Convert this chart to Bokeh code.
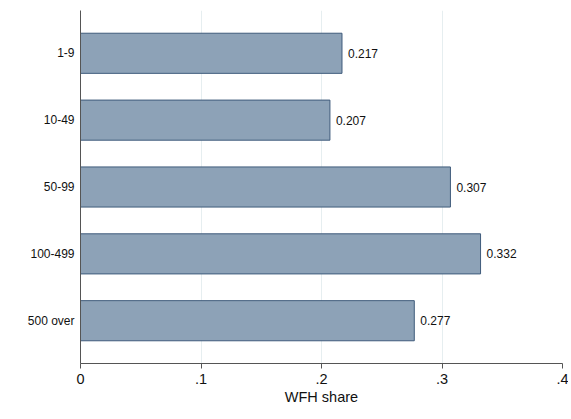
from bokeh.plotting import figure
from bokeh.models import ColumnDataSource, Range1d, FactorRange, FixedTicker
from bokeh.embed import file_html
from bokeh.resources import INLINE
from bokeh.core.properties import value

categories = ["1-9", "10-49", "50-99", "100-499", "500 over"]
wfh_share = [0.217, 0.207, 0.307, 0.332, 0.277]
x_ticks = [0, 0.1, 0.2, 0.3, 0.4]
x_tick_labels = {0: "0", 0.1: ".1", 0.2: ".2", 0.3: ".3", 0.4: ".4"}

labels = ["%.3f" % v for v in wfh_share]
src = ColumnDataSource(dict(cat=categories, val=wfh_share, lab=labels))

FONT = "Liberation Sans"

p = figure(width=568, height=415, output_backend="svg", toolbar_location=None,
           y_range=FactorRange(factors=list(reversed(categories)), range_padding=0.056),
           x_range=Range1d(0, 0.4),
           min_border_left=80, min_border_right=6, min_border_top=10, min_border_bottom=52)
p.outline_line_color = None
p.background_fill_color = "white"
p.border_fill_color = "white"

p.hbar(y="cat", right="val", left=0, height=0.6, source=src,
       fill_color="#8da2b7", line_color="#3f5b7b", line_width=1)
p.text(x="val", y="cat", text="lab", source=src, x_offset=6,
       text_baseline="middle", text_align="left",
       text_font=value(FONT), text_font_size="12px", text_color="#111111")

p.xaxis.ticker = FixedTicker(ticks=x_ticks)
p.xaxis.major_label_overrides = x_tick_labels
p.xaxis.axis_label = "WFH share"
p.xaxis.axis_label_text_font = FONT
p.xaxis.axis_label_text_font_style = "normal"
p.xaxis.axis_label_text_font_size = "14.5px"
p.xaxis.axis_label_text_color = "#111111"
p.xaxis.axis_label_standoff = 2
p.xaxis.major_label_text_font = FONT
p.xaxis.major_label_text_font_size = "14.5px"
p.xaxis.major_label_text_color = "#111111"
p.xaxis.major_tick_out = 5
p.xaxis.major_tick_in = 0
p.xaxis.minor_tick_line_color = None
p.xaxis.axis_line_color = "#555555"
p.xaxis.major_tick_line_color = "#555555"

p.yaxis.major_label_text_font = FONT
p.yaxis.major_label_text_font_size = "12px"
p.yaxis.major_label_text_color = "#111111"
p.yaxis.major_tick_line_color = None
p.yaxis.minor_tick_line_color = None
p.yaxis.major_tick_out = 0
p.yaxis.major_tick_in = 0
p.yaxis.axis_line_color = "#555555"
p.yaxis.major_label_standoff = 6

p.ygrid.grid_line_color = None
p.xgrid.grid_line_color = "#e6eef0"
p.xgrid.grid_line_width = 1

open("out.html", "w").write(file_html(p, INLINE))
